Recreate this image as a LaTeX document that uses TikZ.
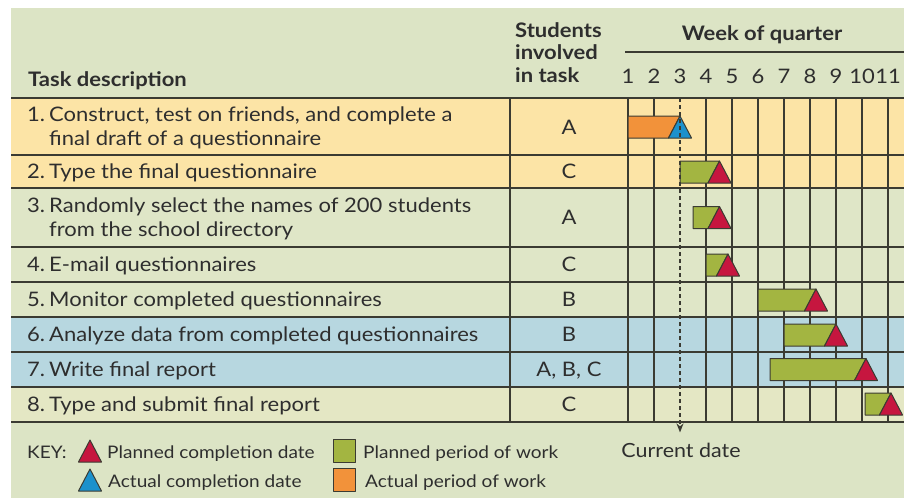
\documentclass[tikz,border=0pt]{standalone}
\usepackage{fontspec}
\setmainfont{Lato}[FakeStretch=1.1]
\usetikzlibrary{arrows.meta}

\definecolor{sage}{HTML}{DCE4C5}
\definecolor{peach}{HTML}{FCE4A6}
\definecolor{leaf}{HTML}{DFE6C7}
\definecolor{sky}{HTML}{B7D7E0}
\definecolor{straw}{HTML}{E4E7C4}
\definecolor{rule}{HTML}{3B3B32}
\definecolor{ink}{HTML}{2E2E2E}
\definecolor{plan}{HTML}{A3B541}
\definecolor{done}{HTML}{F2923A}
\definecolor{due}{HTML}{C6163F}
\definecolor{met}{HTML}{1C91CC}

\begin{document}
\begin{tikzpicture}[x=1pt,y=-1pt,
  every node/.style={inner sep=0pt,text=ink,font=\fontsize{20}{24}\selectfont},
  head/.style={font=\fontsize{20}{23}\selectfont\bfseries},
  keytxt/.style={anchor=base west,font=\fontsize{17.3}{20}\selectfont},
  txt/.style={anchor=base west},
  grid/.style={draw=rule,line width=1.3pt},
  work/.style={draw=rule,line width=1pt,line join=round}]
\useasboundingbox (0,0) rectangle (904,501);
\fill[sage] (11,8) rectangle (904,498);
\fill[peach] (11,98) rectangle (904,188);
\fill[leaf] (11,188) rectangle (904,317);
\fill[sky] (11,317) rectangle (904,387);
\fill[straw] (11,387) rectangle (904,422);

% header
\node[head,txt] (task) at (28,86) {Task description};
\node[head,txt] (stu1) at (515,37) {Students};
\node[head,txt] (stu2) at (515,59.5) {involved};
\node[head,txt] (stu3) at (515,82) {in task};
\node[head,anchor=base] (week) at (762,40) {Week of quarter};
\draw[grid] (625,52) -- (904,52);
\foreach \k in {1,...,11}
  \node[anchor=base] (w\k) at (628+26*\k-26,83) {\k};

% grid
\foreach \y in {155,188,247,282,317,352,387}
  \draw[grid] (11,\y) -- (904,\y);
\draw[grid,line width=2pt] (11,98) -- (904,98);
\draw[grid,line width=2pt] (11,422) -- (904,422);
\draw[grid] (510,98) -- (510,422);
\foreach \k in {0,1,3,4,5,6,7,8,9,10}
  \draw[grid] (628+26*\k,98) -- ++(0,324);

% tasks
\node[txt] (n1) at (27,121.5) {1.};
\node[txt] (t1) at (49,121.5) {Construct, test on friends, and complete a};
\node[txt] (t1b) at (49,145.5) {final draft of a questionnaire};
\node[txt] (n2) at (27,178) {2.};
\node[txt] (t2) at (49,178) {Type the final questionnaire};
\node[txt] (n3) at (27,212.5) {3.};
\node[txt] (t3) at (49,212.5) {Randomly select the names of 200 students};
\node[txt] (t3b) at (49,236.5) {from the school directory};
\node[txt] (n4) at (27,271.5) {4.};
\node[txt] (t4) at (49,271.5) {E-mail questionnaires};
\node[txt] (n5) at (27,306.5) {5.};
\node[txt] (t5) at (49,306.5) {Monitor completed questionnaires};
\node[txt] (n6) at (27,341.5) {6.};
\node[txt] (t6) at (49,341.5) {Analyze data from completed questionnaires};
\node[txt] (n7) at (27,376.5) {7.};
\node[txt] (t7) at (49,376.5) {Write final report};
\node[txt] (n8) at (27,411.5) {8.};
\node[txt] (t8) at (49,411.5) {Type and submit final report};
\foreach \y/\who [count=\i] in {134/A,178/C,224.5/A,271.5/C,306.5/B,341.5/B,376.5/{A, B, C},411.5/C}
  \node[anchor=base] (s\i) at (569,\y) {\who};

% bars and completion marks
\foreach \y/\l/\a/\bar/\mark in {127/628/680/done/met,172/680/719.5/plan/due,
    217.5/693/719.5/plan/due,265/706/728/plan/due,300/758/816/plan/due,
    335/784/836/plan/due,369.5/770/866/plan/due,404/865/891/plan/due} {
  \filldraw[work,fill=\bar] (\l,\y-11) -- (\a,\y-11) -- (\a-11.5,\y+11) -- (\l,\y+11) -- cycle;
  \filldraw[work,fill=\mark] (\a,\y-11) -- (\a+11.5,\y+11) -- (\a-11.5,\y+11) -- cycle;
}

% current date
\coordinate (now) at (680,98);
\node[anchor=base,font=\fontsize{19.5}{22}\selectfont] (cdate) at (681,457) {Current date};
\draw[rule,line width=1.3pt,dash pattern=on 4pt off 3pt,-{Stealth[length=9pt,width=7pt]},shorten >=10pt]
  (now) -- (now |- cdate.north);

% key
\node[keytxt] (key) at (27,458) {KEY:};
\filldraw[work,fill=due] (90,440) -- (101.5,462) -- (78.5,462) -- cycle;
\filldraw[work,fill=met] (90,469) -- (101.5,491) -- (78.5,491) -- cycle;
\node[keytxt] (k1) at (107,458) {Planned completion date};
\node[keytxt] (k2) at (108,487) {Actual completion date};
\filldraw[work,fill=plan] (333,439) rectangle (355,462);
\filldraw[work,fill=done] (333,468) rectangle (355,491);
\node[keytxt] (k3) at (363,458) {Planned period of work};
\node[keytxt] (k4) at (365,487) {Actual period of work};
\end{tikzpicture}
\end{document}
